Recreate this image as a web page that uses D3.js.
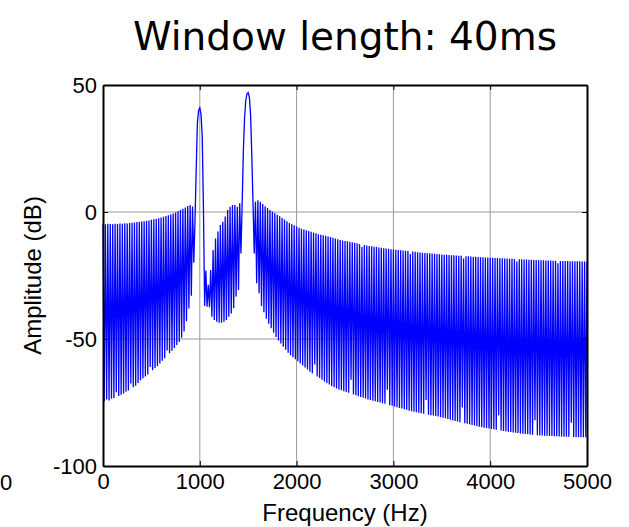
<!DOCTYPE html>
<html>
<head>
<meta charset="utf-8">
<script src="https://cdn.jsdelivr.net/npm/d3@7"></script>
<style>
body { margin: 0; background: #fff; }
svg { display: block; }
</style>
</head>
<body>
<svg id="chart" width="629" height="527"></svg>
<script>
// spectrum samples (dB), 12.5 Hz apart
// 0 - 937.5 Hz: sidelobe tops (at 0, 25, 50 ...) and nulls (at 12.5, 37.5 ...)
const lowPeaks = [-4.7, -4.8, -4.6, -4.7, -4.8, -4.6, -4.7, -4.5, -4.6, -4.4,
	-4.5, -4.3, -4.2, -4.1, -3.9, -3.8, -3.7, -3.6, -3.4, -3.3,
	-3.1, -2.9, -2.7, -2.5, -2.2, -1.9, -1.6, -1.3, -1.0, -0.6,
	-0.2, 0.3, 0.8, 1.3, 1.8, 2.4, 2.8, 2.2];
const lowNulls = [-74.5, -73.8, -74.2, -73.5, -73.2, -71.0, -72.4, -71.9, -71.5, -70.8,
	-70.3, -67.5, -69.0, -68.4, -67.3, -66.2, -65.5, -64.8, -64.0, -61.0,
	-62.3, -61.5, -60.6, -59.6, -58.6, -57.6, -54.5, -55.6, -54.6, -53.5,
	-52.4, -51.2, -49.5, -47.0, -43.0, -38.0, -33.0, -20.0];

// 950 - 1562.5 Hz: the two main lobes and what lies between them
const lobeStart = 950;
const lobeAmp = [-4, 16, 35, 40, 41, 38.5, 30, 2, -37, -23,
	-37.3, -28.7, -37.5, -22.8, -41.2, -15, -42.5, -10.4, -43.2, -7.7,
	-43.6, -5.1, -43.6, -3.8, -43.2, -1.8, -42.5, 0.8, -41.2, 2.1,
	-40, 2.8, -37.9, 2.8, -33.3, 2.1, -30.7, 3.4, -16.3, 3.0,
	24, 37, 44, 46.5, 47, 45, 38, 22, 3, -16.3];

// 1575 - 5000 Hz: tops at 1575, 1600 ... and nulls at 1587.5, 1612.5 ...
const tailStart = 1575;
const tailPeaks = [4.0, 4.6, 4.0, 3.1, 2.3, 1.6, 0.8, 0.2, -0.4, -1.1,
	-1.7, -2.4, -3.0, -3.6, -4.3, -4.8, -5.2, -5.7, -6.2, -6.6,
	-6.9, -7.2, -7.5, -7.8, -8.1, -8.4, -8.8, -9.0, -9.2, -9.4,
	-9.6, -9.8, -10.1, -10.4, -10.7, -11.0, -11.2, -11.4, -11.5, -11.7,
	-11.9, -12.1, -12.3, -12.6, -13.8, -13.0, -13.2, -13.4, -13.5, -13.7,
	-13.8, -14.0, -14.1, -14.3, -14.4, -14.5, -14.7, -14.8, -14.9, -15.0,
	-15.1, -15.2, -15.3, -15.4, -16.5, -15.6, -15.7, -15.8, -15.9, -16.0,
	-16.1, -16.2, -16.2, -16.3, -16.4, -16.5, -16.6, -16.7, -16.8, -16.8,
	-16.9, -17.0, -17.0, -17.1, -17.2, -17.2, -18.3, -17.4, -17.4, -17.5,
	-17.6, -17.6, -17.7, -17.8, -17.8, -17.9, -17.9, -18.0, -18.0, -18.1,
	-18.1, -18.2, -18.2, -18.3, -18.3, -18.4, -18.4, -18.5, -19.5, -18.6,
	-18.6, -18.7, -18.7, -18.8, -18.8, -18.9, -18.9, -19.0, -19.0, -19.0,
	-19.1, -19.1, -19.1, -19.2, -19.2, -20.2, -19.3, -19.3, -19.3, -19.3,
	-19.4, -19.4, -19.4, -19.4, -19.4, -19.5, -19.5, -19.5];
const tailNulls = [-28, -32, -37, -39.5, -42, -44, -45.8, -47.5, -49.2, -50.6,
	-51.8, -53, -54.2, -55.4, -56.4, -57.2, -58, -58.8, -59.6, -60.4,
	-61.2, -62, -62.9, -63.5, -60, -64.8, -65.4, -66, -66.7, -67.3,
	-67.9, -68.5, -69, -69.5, -69.9, -70.2, -70.6, -70.9, -71.2, -66,
	-71.8, -72.1, -72.5, -72.8, -73.1, -73.4, -73.8, -74, -74.3, -74.5,
	-74.8, -75, -75.3, -75.5, -70, -76.1, -76.3, -76.6, -76.9, -77.2,
	-77.4, -77.7, -77.9, -78.2, -78.4, -78.6, -78.8, -79, -79.2, -79.4,
	-74, -79.8, -80, -80.1, -80.3, -80.5, -80.8, -81, -81.2, -81.5,
	-81.8, -82, -82.3, -82.5, -82.8, -77, -83.2, -83.4, -83.6, -83.9,
	-84.1, -84.3, -84.5, -84.7, -84.9, -85, -85.2, -85.4, -85.5, -85.7,
	-80, -86, -86.2, -86.3, -86.5, -86.6, -86.8, -86.9, -87, -87.2,
	-87.3, -87.4, -87.5, -87.6, -87.7, -82, -87.9, -88, -88, -88.1,
	-88.1, -88.2, -88.2, -88.3, -88.3, -88.4, -88.4, -88.5, -88.5, -88.5,
	-83, -88.6, -88.6, -88.7, -88.7, -88.7, -88.7];

const xTicks = [0, 1000, 2000, 3000, 4000, 5000];
const yTicks = [-100, -50, 0, 50];

const title = "Window length: 40ms";
const xLabel = "Frequency (Hz)";
const yLabel = "Amplitude (dB)";

// put the pieces back into one run of samples
const spectrum = [];
lowPeaks.forEach((v, i) => {
	spectrum.push({ f: i * 25, db: v });
	spectrum.push({ f: i * 25 + 12.5, db: lowNulls[i] });
});
lobeAmp.forEach((v, i) => spectrum.push({ f: lobeStart + i * 12.5, db: v }));
tailPeaks.forEach((v, i) => {
	spectrum.push({ f: tailStart + i * 25, db: v });
	if (i < tailNulls.length) spectrum.push({ f: tailStart + i * 25 + 12.5, db: tailNulls[i] });
});

const margin = { left: 103, right: 42, top: 85, bottom: 61 };
const width = 629, height = 527;

const svg = d3.select("#chart");

const x = d3.scaleLinear()
	.domain([0, 5000])
	.range([margin.left, width - margin.right]);

const y = d3.scaleLinear()
	.domain([-100, 50])
	.range([height - margin.bottom, margin.top]);

// grid
const grid = svg.append("g")
	.attr("stroke", "#9a9a9a")
	.attr("stroke-width", 1);

grid.selectAll("line.gx")
	.data(xTicks.slice(1, -1))
	.join("line")
	.attr("class", "gx")
	.attr("x1", d => x(d)).attr("x2", d => x(d))
	.attr("y1", y(50)).attr("y2", y(-100));

grid.selectAll("line.gy")
	.data(yTicks.slice(1, -1))
	.join("line")
	.attr("class", "gy")
	.attr("x1", x(0)).attr("x2", x(5000))
	.attr("y1", d => y(d)).attr("y2", d => y(d));

// data
svg.append("path")
	.datum(spectrum)
	.attr("fill", "none")
	.attr("stroke", "#0000ff")
	.attr("stroke-width", 1.3)
	.attr("d", d3.line().x(d => x(d.f)).y(d => y(d.db)));

// axes, MATLAB style box with inward ticks
const fmt = d => String(d);

svg.append("g")
	.attr("transform", `translate(0,${y(-100)})`)
	.call(d3.axisBottom(x).tickValues(xTicks).tickFormat(fmt).tickSize(-5).tickSizeOuter(0).tickPadding(7));

svg.append("g")
	.attr("transform", `translate(${x(0)},0)`)
	.call(d3.axisLeft(y).tickValues(yTicks).tickFormat(fmt).tickSize(-5).tickSizeOuter(0).tickPadding(6));

svg.append("g")
	.attr("transform", `translate(0,${y(50)})`)
	.call(d3.axisTop(x).tickValues(xTicks).tickFormat("").tickSize(-5).tickSizeOuter(0));

svg.append("g")
	.attr("transform", `translate(${x(5000)},0)`)
	.call(d3.axisRight(y).tickValues(yTicks).tickFormat("").tickSize(-5).tickSizeOuter(0));

svg.selectAll(".domain")
	.attr("stroke", "#000")
	.attr("stroke-width", 2);

svg.selectAll(".tick line")
	.attr("stroke", "#000");

svg.selectAll(".tick text")
	.attr("fill", "#000")
	.style("font-family", "'Liberation Sans', Arial, sans-serif")
	.style("font-size", "22px");

// labels
svg.append("text")
	.attr("x", (x(0) + x(5000)) / 2)
	.attr("y", 50)
	.attr("text-anchor", "middle")
	.style("font-family", "'DejaVu Sans', Verdana, sans-serif")
	.style("font-size", "39px")
	.text(title);

svg.append("text")
	.attr("x", (x(0) + x(5000)) / 2)
	.attr("y", 521)
	.attr("text-anchor", "middle")
	.style("font-family", "'Liberation Sans', Arial, sans-serif")
	.style("font-size", "24px")
	.text(xLabel);

svg.append("text")
	.attr("transform", `translate(41,${(y(50) + y(-100)) / 2}) rotate(-90)`)
	.attr("text-anchor", "middle")
	.style("font-family", "'Liberation Sans', Arial, sans-serif")
	.style("font-size", "24px")
	.text(yLabel);

// last digit of the neighbouring plot's tick label, at the left edge
svg.append("text")
	.attr("x", 0)
	.attr("y", 490)
	.style("font-family", "'Liberation Sans', Arial, sans-serif")
	.style("font-size", "22px")
	.text("0");
</script>
</body>
</html>
